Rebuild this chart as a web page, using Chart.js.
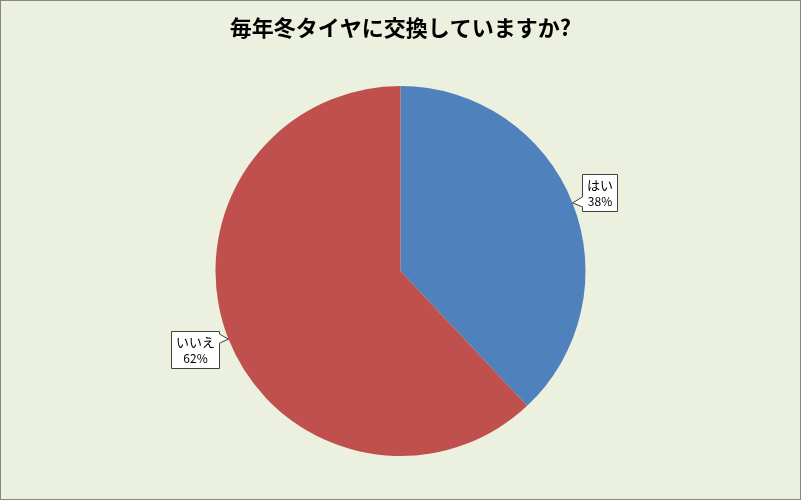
<!DOCTYPE html>
<html>
<head>
<meta charset="utf-8">
<script src="https://cdn.jsdelivr.net/npm/chart.js@4/dist/chart.umd.min.js"></script>
<style>
  html, body { margin: 0; padding: 0; background: #EBF1DE; }
  canvas { display: block; }
</style>
</head>
<body>
<canvas id="pie" width="801" height="500"></canvas>
<script>
// chart data
const answerLabels = ['はい', 'いいえ'];
const answerPercents = [38, 62];
const sliceColors = ['#4F81BD', '#C0504D'];
const chartTitle = '毎年冬タイヤに交換していますか?';

const jpFont = '"Noto Sans CJK JP", "Noto Sans", sans-serif';

// frame + background
const framePlugin = {
  id: 'frame',
  beforeDraw(chart) {
    const c = chart.ctx;
    c.save();
    c.fillStyle = '#EBF1DE';
    c.fillRect(0, 0, chart.width, chart.height);
    c.strokeStyle = '#868686';
    c.lineWidth = 1;
    c.strokeRect(0.5, 0.5, chart.width - 1, chart.height - 1);
    c.restore();
  }
};

// callout labels like the excel data labels
const calloutPlugin = {
  id: 'callouts',
  afterDatasetsDraw(chart) {
    const c = chart.ctx;
    const meta = chart.getDatasetMeta(0);
    const total = answerPercents.reduce((a, b) => a + b, 0);
    meta.data.forEach(function (arc, i) {
      const p = arc.getProps(['x', 'y', 'startAngle', 'endAngle', 'outerRadius'], true);
      const mid = (p.startAngle + p.endAngle) / 2;
      const tipX = p.x + Math.cos(mid) * p.outerRadius;
      const tipY = p.y + Math.sin(mid) * p.outerRadius;
      const right = Math.cos(mid) >= 0;
      const down = Math.sin(mid) >= 0;

      const line1 = answerLabels[i];
      const line2 = Math.round(answerPercents[i] / total * 100) + '%';
      c.save();
      c.font = '13px ' + jpFont;
      const w1 = c.measureText(line1).width;
      c.font = '12px ' + jpFont;
      const w2 = c.measureText(line2).width;
      const bw = Math.round(Math.max(w1, w2) + 9);
      const bh = 37;
      const bx = Math.round(right ? tipX + 9 : tipX - 9 - bw) + 0.5;
      const by = Math.round(tipY + (down ? 10 : -10) - bh / 2) + 0.5;

      // box with notch pointing at the slice
      c.beginPath();
      if (right) {
        const n1 = tipY - 6, n2 = tipY + 4;
        c.moveTo(bx, by);
        c.lineTo(bx + bw, by);
        c.lineTo(bx + bw, by + bh);
        c.lineTo(bx, by + bh);
        c.lineTo(bx, n2);
        c.lineTo(tipX, tipY);
        c.lineTo(bx, n1);
        c.closePath();
      } else {
        const n1 = tipY - 5, n2 = tipY + 4;
        c.moveTo(bx, by);
        c.lineTo(bx + bw, by);
        c.lineTo(bx + bw, n1);
        c.lineTo(tipX, tipY);
        c.lineTo(bx + bw, n2);
        c.lineTo(bx + bw, by + bh);
        c.lineTo(bx, by + bh);
        c.closePath();
      }
      c.fillStyle = '#FFFFFF';
      c.fill();
      c.strokeStyle = '#404040';
      c.lineWidth = 1;
      c.stroke();

      c.fillStyle = '#000000';
      c.textAlign = 'center';
      c.textBaseline = 'middle';
      c.font = '13px ' + jpFont;
      c.fillText(line1, bx + bw / 2, by + 11);
      c.font = '12px ' + jpFont;
      c.fillText(line2, bx + bw / 2, by + 27);
      c.restore();
    });
  }
};

const ctxPie = document.getElementById('pie').getContext('2d');
const pieChart = new Chart(ctxPie, {
  type: 'pie',
  data: {
    labels: answerLabels,
    datasets: [{
      data: answerPercents,
      backgroundColor: sliceColors,
      borderWidth: 0
    }]
  },
  options: {
    responsive: false,
    animation: false,
    devicePixelRatio: 1,
    layout: { padding: { top: 0, bottom: 44, left: 0, right: 0 } },
    plugins: {
      legend: { display: false },
      tooltip: { enabled: false },
      title: {
        display: true,
        text: chartTitle,
        color: '#000000',
        font: { family: jpFont, size: 22, weight: 'bold', lineHeight: 1.1 },
        padding: { top: 16, bottom: 45.8 }
      }
    }
  },
  plugins: [framePlugin, calloutPlugin]
});
</script>
</body>
</html>
